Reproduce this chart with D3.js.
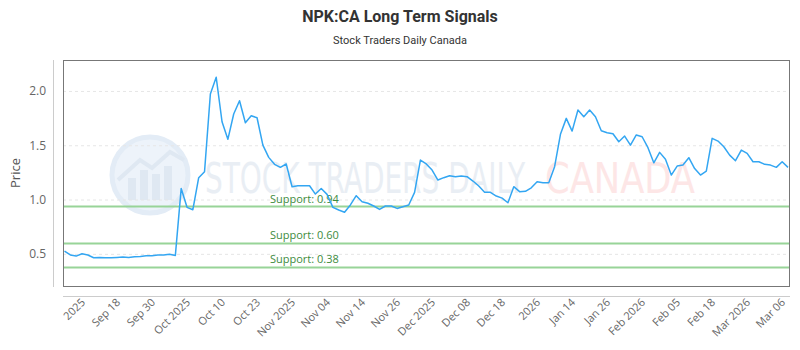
<!DOCTYPE html>
<html><head><meta charset="utf-8">
<script src="https://cdn.jsdelivr.net/npm/d3@7"></script>
<style>body{margin:0;background:#fff}svg{display:block}</style>
</head><body><svg id="c" width="800" height="350"></svg>
<script>
const prices = [0.530,0.494,0.484,0.506,0.494,0.469,0.472,0.469,0.469,0.472,
0.475,0.472,0.478,0.481,0.487,0.487,0.494,0.494,0.500,0.490,
1.107,0.933,0.911,1.206,1.261,1.976,2.130,1.721,1.559,1.792,
1.914,1.712,1.776,1.758,1.506,1.393,1.329,1.301,1.332,1.123,
1.132,1.132,1.132,1.055,1.107,1.052,0.933,0.908,0.887,0.955,
1.040,0.985,0.970,0.945,0.914,0.945,0.945,0.923,0.938,0.954,
1.071,1.368,1.332,1.276,1.184,1.206,1.224,1.215,1.221,1.215,
1.175,1.129,1.071,1.071,1.037,1.018,0.975,1.123,1.077,1.080,
1.113,1.169,1.160,1.160,1.307,1.605,1.752,1.635,1.829,1.767,
1.829,1.767,1.638,1.620,1.611,1.537,1.589,1.506,1.599,1.583,
1.482,1.343,1.439,1.375,1.230,1.313,1.322,1.390,1.290,1.230,
1.267,1.568,1.543,1.491,1.414,1.362,1.460,1.430,1.353,1.353,
1.329,1.322,1.301,1.353,1.301];
const tickLabels = ["2025","Sep 18","Sep 30","Oct 2025","Oct 10","Oct 23","Nov 2025","Nov 04","Nov 14","Nov 26",
"Dec 2025","Dec 08","Dec 18","2026","Jan 14","Jan 26","Feb 2026","Feb 05","Feb 18","Mar 2026","Mar 06"];
const tickIndex = tickLabels.map((_, i) => 4 + 6 * i);
const supports = [0.94, 0.60, 0.38];
const yTicks = [0.5, 1.0, 1.5, 2.0];

const svg = d3.select("#c");
const L = 63, R = 790, T = 60, B = 286;
const x = d3.scaleLinear().domain([0, prices.length - 1]).range([64.5, 788]);
const y = d3.scaleLinear().domain([0.2085, 2.2896]).range([B, T]);

// title
svg.append("text").attr("x", 400).attr("y", 22).attr("text-anchor", "middle")
  .attr("font-family", "Roboto, sans-serif").attr("font-weight", "bold").attr("font-size", 16)
  .attr("fill", "#333").text("NPK:CA Long Term Signals");
svg.append("text").attr("x", 400).attr("y", 44).attr("text-anchor", "middle")
  .attr("font-family", "Roboto, sans-serif").attr("font-size", 11)
  .attr("fill", "#333").text("Stock Traders Daily Canada");

// watermark
const wm = svg.append("g");
wm.append("circle").attr("cx", 150).attr("cy", 175).attr("r", 38)
  .attr("fill", "#edf3fa").attr("stroke", "#e3ecf6").attr("stroke-width", 5);
[[128,8,22],[140,8,30],[152,8,26],[164,8,34]].forEach(([bx,bw,bh]) =>
  wm.append("rect").attr("x", bx).attr("y", 200 - bh).attr("width", bw).attr("height", bh).attr("fill", "#dfe8f2"));
wm.append("polyline").attr("points", "118,180 140,160 152,168 170,152 184,160")
  .attr("fill", "none").attr("stroke", "#dfe8f2").attr("stroke-width", 4);
wm.append("text").attr("x", 205).attr("y", 193).attr("font-family", "'DejaVu Sans Condensed', 'DejaVu Sans', sans-serif")
  .attr("font-size", 42).attr("fill", "#e9eef4").attr("textLength", 320).attr("lengthAdjust", "spacingAndGlyphs")
  .text("STOCK TRADERS DAILY");
wm.append("text").attr("x", 545).attr("y", 193).attr("font-family", "'DejaVu Sans Condensed', 'DejaVu Sans', sans-serif")
  .attr("font-size", 42).attr("fill", "#fde6e6").attr("textLength", 150).attr("lengthAdjust", "spacingAndGlyphs")
  .text("CANADA");

// gridlines
svg.append("g").selectAll("line").data(yTicks).join("line")
  .attr("x1", L).attr("x2", R).attr("y1", d => y(d)).attr("y2", d => y(d))
  .attr("stroke", "#e6e6e6").attr("stroke-dasharray", "3,3");

// y labels
svg.append("g").selectAll("text").data(yTicks).join("text")
  .attr("x", 46).attr("y", d => y(d) + 4).attr("text-anchor", "end")
  .attr("font-family", "'Open Sans', sans-serif").attr("font-size", 12).attr("fill", "#666")
  .text(d => d.toFixed(1));
svg.append("text").attr("transform", "translate(20,173) rotate(-90)").attr("text-anchor", "middle")
  .attr("font-family", "'Open Sans', sans-serif").attr("font-size", 13).attr("fill", "#555").text("Price");

// left axis line & bottom axis line
svg.append("line").attr("x1", 53.5).attr("x2", 53.5).attr("y1", T).attr("y2", B + 1).attr("stroke", "#ccc");
svg.append("line").attr("x1", L).attr("x2", R).attr("y1", 296.5).attr("y2", 296.5).attr("stroke", "#ccc");

// supports
const sg = svg.append("g");
sg.selectAll("line").data(supports).join("line")
  .attr("x1", L).attr("x2", R).attr("y1", d => y(d)).attr("y2", d => y(d))
  .attr("stroke", "#98d498").attr("stroke-width", 2);
sg.selectAll("text").data(supports).join("text")
  .attr("x", 270).attr("y", d => y(d) - 4)
  .attr("font-family", "'Open Sans', sans-serif").attr("font-size", 11).attr("fill", "#3d8b3d")
  .text(d => "Support: " + d.toFixed(2));

// price line
svg.append("path").datum(prices)
  .attr("d", d3.line().x((d, i) => x(i)).y(d => y(d)))
  .attr("fill", "none").attr("stroke", "#33a6f2").attr("stroke-width", 1.5).attr("stroke-linejoin", "round");

// plot border
svg.append("rect").attr("x", L + 0.5).attr("y", T + 0.5).attr("width", R - L - 1).attr("height", B - T)
  .attr("fill", "none").attr("stroke", "#777");

// x labels
svg.append("g").selectAll("text").data(tickLabels).join("text")
  .attr("transform", (d, i) => `translate(${x(tickIndex[i]) - 2},303) rotate(-45)`)
  .attr("text-anchor", "end")
  .attr("font-family", "'Open Sans', sans-serif").attr("font-size", 11).attr("fill", "#666")
  .text(d => d);
</script></body></html>
